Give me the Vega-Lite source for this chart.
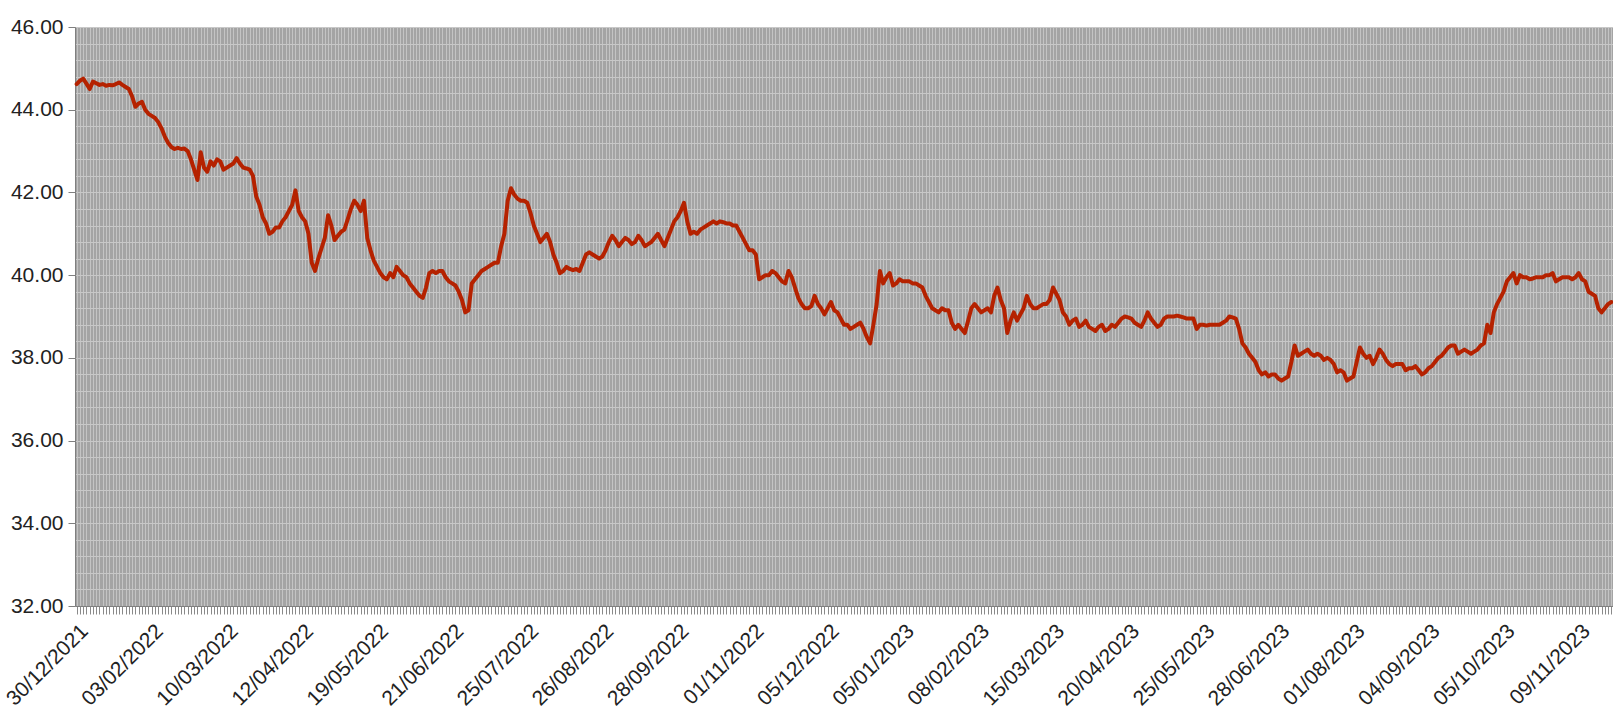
{
"$schema": "https://vega.github.io/schema/vega-lite/v6.json",
"width": 1538, "height": 579,
"autosize": {"type": "none"},
"padding": {"left": 75, "top": 27, "right": 0, "bottom": 104},
"background": "white",
"config": {"view": {"fill": "#a4a4a4", "stroke": null}, "font": "Liberation Sans"},
"data": {"values": [
{"date":"30/12/2021","value":44.62},{"date":"03/01/2022","value":44.70},{"date":"04/01/2022","value":44.75},{"date":"05/01/2022","value":44.63},{"date":"06/01/2022","value":44.50},{"date":"07/01/2022","value":44.68},{"date":"10/01/2022","value":44.64},{"date":"11/01/2022","value":44.60},{"date":"12/01/2022","value":44.62},{"date":"13/01/2022","value":44.58},{"date":"14/01/2022","value":44.60},{"date":"17/01/2022","value":44.59},{"date":"18/01/2022","value":44.62},{"date":"19/01/2022","value":44.66},{"date":"20/01/2022","value":44.60},{"date":"21/01/2022","value":44.55},{"date":"24/01/2022","value":44.50},{"date":"26/01/2022","value":44.32},{"date":"27/01/2022","value":44.07},{"date":"28/01/2022","value":44.15},{"date":"31/01/2022","value":44.19},{"date":"01/02/2022","value":44.00},{"date":"02/02/2022","value":43.90},
{"date":"03/02/2022","value":43.85},{"date":"04/02/2022","value":43.80},{"date":"07/02/2022","value":43.70},{"date":"08/02/2022","value":43.55},{"date":"09/02/2022","value":43.35},{"date":"10/02/2022","value":43.20},{"date":"11/02/2022","value":43.10},{"date":"14/02/2022","value":43.05},{"date":"15/02/2022","value":43.08},{"date":"16/02/2022","value":43.05},{"date":"17/02/2022","value":43.06},{"date":"18/02/2022","value":43.00},{"date":"21/02/2022","value":42.80},{"date":"22/02/2022","value":42.55},{"date":"23/02/2022","value":42.30},{"date":"24/02/2022","value":42.97},{"date":"25/02/2022","value":42.60},{"date":"02/03/2022","value":42.50},{"date":"03/03/2022","value":42.75},{"date":"04/03/2022","value":42.65},{"date":"07/03/2022","value":42.80},{"date":"08/03/2022","value":42.75},{"date":"09/03/2022","value":42.55},
{"date":"10/03/2022","value":42.60},{"date":"11/03/2022","value":42.65},{"date":"14/03/2022","value":42.70},{"date":"15/03/2022","value":42.83},{"date":"16/03/2022","value":42.70},{"date":"17/03/2022","value":42.60},{"date":"18/03/2022","value":42.58},{"date":"21/03/2022","value":42.55},{"date":"22/03/2022","value":42.40},{"date":"23/03/2022","value":41.90},{"date":"24/03/2022","value":41.70},{"date":"25/03/2022","value":41.40},{"date":"28/03/2022","value":41.25},{"date":"29/03/2022","value":41.00},{"date":"30/03/2022","value":41.05},{"date":"31/03/2022","value":41.15},{"date":"01/04/2022","value":41.15},{"date":"04/04/2022","value":41.30},{"date":"05/04/2022","value":41.40},{"date":"06/04/2022","value":41.55},{"date":"07/04/2022","value":41.70},{"date":"08/04/2022","value":42.05},{"date":"11/04/2022","value":41.55},
{"date":"12/04/2022","value":41.40},{"date":"13/04/2022","value":41.30},{"date":"14/04/2022","value":41.00},{"date":"18/04/2022","value":40.30},{"date":"19/04/2022","value":40.10},{"date":"20/04/2022","value":40.40},{"date":"22/04/2022","value":40.65},{"date":"25/04/2022","value":40.90},{"date":"26/04/2022","value":41.45},{"date":"27/04/2022","value":41.20},{"date":"28/04/2022","value":40.85},{"date":"02/05/2022","value":40.95},{"date":"03/05/2022","value":41.05},{"date":"04/05/2022","value":41.10},{"date":"05/05/2022","value":41.35},{"date":"06/05/2022","value":41.60},{"date":"09/05/2022","value":41.80},{"date":"10/05/2022","value":41.70},{"date":"11/05/2022","value":41.55},{"date":"12/05/2022","value":41.80},{"date":"16/05/2022","value":40.90},{"date":"17/05/2022","value":40.60},{"date":"18/05/2022","value":40.35},
{"date":"19/05/2022","value":40.20},{"date":"20/05/2022","value":40.05},{"date":"23/05/2022","value":39.95},{"date":"24/05/2022","value":39.90},{"date":"25/05/2022","value":40.05},{"date":"26/05/2022","value":39.95},{"date":"27/05/2022","value":40.20},{"date":"30/05/2022","value":40.10},{"date":"31/05/2022","value":40.00},{"date":"01/06/2022","value":39.95},{"date":"02/06/2022","value":39.80},{"date":"03/06/2022","value":39.70},{"date":"06/06/2022","value":39.60},{"date":"07/06/2022","value":39.50},{"date":"08/06/2022","value":39.45},{"date":"09/06/2022","value":39.70},{"date":"10/06/2022","value":40.05},{"date":"13/06/2022","value":40.10},{"date":"14/06/2022","value":40.05},{"date":"15/06/2022","value":40.10},{"date":"16/06/2022","value":40.10},{"date":"17/06/2022","value":39.95},{"date":"20/06/2022","value":39.85},
{"date":"21/06/2022","value":39.80},{"date":"22/06/2022","value":39.75},{"date":"23/06/2022","value":39.60},{"date":"24/06/2022","value":39.40},{"date":"27/06/2022","value":39.10},{"date":"28/06/2022","value":39.15},{"date":"29/06/2022","value":39.80},{"date":"30/06/2022","value":39.90},{"date":"01/07/2022","value":40.00},{"date":"04/07/2022","value":40.10},{"date":"05/07/2022","value":40.15},{"date":"06/07/2022","value":40.20},{"date":"07/07/2022","value":40.25},{"date":"08/07/2022","value":40.30},{"date":"11/07/2022","value":40.30},{"date":"12/07/2022","value":40.70},{"date":"13/07/2022","value":41.00},{"date":"14/07/2022","value":41.80},{"date":"18/07/2022","value":42.10},{"date":"19/07/2022","value":41.95},{"date":"20/07/2022","value":41.85},{"date":"21/07/2022","value":41.80},{"date":"22/07/2022","value":41.80},
{"date":"25/07/2022","value":41.75},{"date":"26/07/2022","value":41.50},{"date":"27/07/2022","value":41.20},{"date":"28/07/2022","value":41.00},{"date":"29/07/2022","value":40.80},{"date":"01/08/2022","value":40.90},{"date":"02/08/2022","value":41.00},{"date":"03/08/2022","value":40.80},{"date":"04/08/2022","value":40.50},{"date":"05/08/2022","value":40.30},{"date":"08/08/2022","value":40.05},{"date":"09/08/2022","value":40.10},{"date":"10/08/2022","value":40.20},{"date":"11/08/2022","value":40.15},{"date":"12/08/2022","value":40.12},{"date":"16/08/2022","value":40.15},{"date":"17/08/2022","value":40.10},{"date":"18/08/2022","value":40.30},{"date":"19/08/2022","value":40.50},{"date":"22/08/2022","value":40.55},{"date":"23/08/2022","value":40.50},{"date":"24/08/2022","value":40.45},{"date":"25/08/2022","value":40.40},
{"date":"26/08/2022","value":40.45},{"date":"29/08/2022","value":40.60},{"date":"30/08/2022","value":40.80},{"date":"31/08/2022","value":40.95},{"date":"01/09/2022","value":40.85},{"date":"02/09/2022","value":40.70},{"date":"05/09/2022","value":40.80},{"date":"06/09/2022","value":40.90},{"date":"07/09/2022","value":40.85},{"date":"08/09/2022","value":40.75},{"date":"09/09/2022","value":40.80},{"date":"12/09/2022","value":40.95},{"date":"13/09/2022","value":40.85},{"date":"14/09/2022","value":40.70},{"date":"15/09/2022","value":40.75},{"date":"16/09/2022","value":40.80},{"date":"19/09/2022","value":40.90},{"date":"20/09/2022","value":41.00},{"date":"21/09/2022","value":40.85},{"date":"22/09/2022","value":40.70},{"date":"23/09/2022","value":40.90},{"date":"26/09/2022","value":41.10},{"date":"27/09/2022","value":41.30},
{"date":"28/09/2022","value":41.40},{"date":"29/09/2022","value":41.55},{"date":"30/09/2022","value":41.75},{"date":"03/10/2022","value":41.30},{"date":"04/10/2022","value":41.00},{"date":"05/10/2022","value":41.05},{"date":"06/10/2022","value":41.00},{"date":"07/10/2022","value":41.10},{"date":"10/10/2022","value":41.15},{"date":"11/10/2022","value":41.20},{"date":"13/10/2022","value":41.25},{"date":"14/10/2022","value":41.30},{"date":"17/10/2022","value":41.25},{"date":"18/10/2022","value":41.30},{"date":"19/10/2022","value":41.28},{"date":"20/10/2022","value":41.25},{"date":"21/10/2022","value":41.25},{"date":"24/10/2022","value":41.20},{"date":"25/10/2022","value":41.20},{"date":"26/10/2022","value":41.05},{"date":"27/10/2022","value":40.90},{"date":"28/10/2022","value":40.75},{"date":"31/10/2022","value":40.60},
{"date":"01/11/2022","value":40.60},{"date":"02/11/2022","value":40.50},{"date":"03/11/2022","value":39.90},{"date":"04/11/2022","value":39.95},{"date":"07/11/2022","value":40.00},{"date":"08/11/2022","value":40.00},{"date":"09/11/2022","value":40.10},{"date":"10/11/2022","value":40.05},{"date":"11/11/2022","value":39.95},{"date":"14/11/2022","value":39.85},{"date":"16/11/2022","value":39.80},{"date":"17/11/2022","value":40.10},{"date":"18/11/2022","value":39.95},{"date":"21/11/2022","value":39.70},{"date":"22/11/2022","value":39.45},{"date":"23/11/2022","value":39.30},{"date":"24/11/2022","value":39.20},{"date":"25/11/2022","value":39.20},{"date":"28/11/2022","value":39.25},{"date":"29/11/2022","value":39.50},{"date":"30/11/2022","value":39.30},{"date":"01/12/2022","value":39.20},{"date":"02/12/2022","value":39.05},
{"date":"05/12/2022","value":39.20},{"date":"06/12/2022","value":39.35},{"date":"07/12/2022","value":39.15},{"date":"08/12/2022","value":39.10},{"date":"09/12/2022","value":38.95},{"date":"12/12/2022","value":38.80},{"date":"13/12/2022","value":38.80},{"date":"14/12/2022","value":38.70},{"date":"15/12/2022","value":38.75},{"date":"16/12/2022","value":38.80},{"date":"19/12/2022","value":38.85},{"date":"20/12/2022","value":38.70},{"date":"21/12/2022","value":38.50},{"date":"22/12/2022","value":38.35},{"date":"23/12/2022","value":38.80},{"date":"26/12/2022","value":39.30},{"date":"27/12/2022","value":40.10},{"date":"28/12/2022","value":39.80},{"date":"29/12/2022","value":39.95},{"date":"30/12/2022","value":40.05},{"date":"02/01/2023","value":39.75},{"date":"03/01/2023","value":39.80},{"date":"04/01/2023","value":39.90},
{"date":"05/01/2023","value":39.85},{"date":"06/01/2023","value":39.85},{"date":"09/01/2023","value":39.85},{"date":"10/01/2023","value":39.80},{"date":"11/01/2023","value":39.80},{"date":"12/01/2023","value":39.75},{"date":"13/01/2023","value":39.70},{"date":"16/01/2023","value":39.50},{"date":"17/01/2023","value":39.35},{"date":"18/01/2023","value":39.20},{"date":"19/01/2023","value":39.15},{"date":"20/01/2023","value":39.10},{"date":"23/01/2023","value":39.20},{"date":"24/01/2023","value":39.15},{"date":"26/01/2023","value":39.15},{"date":"27/01/2023","value":38.85},{"date":"30/01/2023","value":38.70},{"date":"31/01/2023","value":38.80},{"date":"01/02/2023","value":38.70},{"date":"02/02/2023","value":38.60},{"date":"03/02/2023","value":38.90},{"date":"06/02/2023","value":39.20},{"date":"07/02/2023","value":39.30},
{"date":"08/02/2023","value":39.20},{"date":"09/02/2023","value":39.10},{"date":"10/02/2023","value":39.15},{"date":"13/02/2023","value":39.20},{"date":"14/02/2023","value":39.10},{"date":"15/02/2023","value":39.50},{"date":"16/02/2023","value":39.70},{"date":"17/02/2023","value":39.40},{"date":"22/02/2023","value":39.20},{"date":"23/02/2023","value":38.60},{"date":"24/02/2023","value":38.90},{"date":"27/02/2023","value":39.10},{"date":"28/02/2023","value":38.90},{"date":"01/03/2023","value":39.05},{"date":"02/03/2023","value":39.20},{"date":"03/03/2023","value":39.50},{"date":"06/03/2023","value":39.30},{"date":"07/03/2023","value":39.20},{"date":"08/03/2023","value":39.20},{"date":"09/03/2023","value":39.25},{"date":"10/03/2023","value":39.30},{"date":"13/03/2023","value":39.30},{"date":"14/03/2023","value":39.40},
{"date":"15/03/2023","value":39.70},{"date":"16/03/2023","value":39.55},{"date":"17/03/2023","value":39.40},{"date":"20/03/2023","value":39.10},{"date":"21/03/2023","value":39.00},{"date":"22/03/2023","value":38.80},{"date":"23/03/2023","value":38.90},{"date":"27/03/2023","value":38.95},{"date":"28/03/2023","value":38.75},{"date":"29/03/2023","value":38.80},{"date":"30/03/2023","value":38.90},{"date":"31/03/2023","value":38.75},{"date":"03/04/2023","value":38.70},{"date":"04/04/2023","value":38.65},{"date":"05/04/2023","value":38.75},{"date":"06/04/2023","value":38.80},{"date":"10/04/2023","value":38.65},{"date":"11/04/2023","value":38.70},{"date":"12/04/2023","value":38.80},{"date":"13/04/2023","value":38.75},{"date":"17/04/2023","value":38.85},{"date":"18/04/2023","value":38.95},{"date":"19/04/2023","value":39.00},
{"date":"20/04/2023","value":38.98},{"date":"24/04/2023","value":38.95},{"date":"25/04/2023","value":38.85},{"date":"26/04/2023","value":38.80},{"date":"27/04/2023","value":38.75},{"date":"28/04/2023","value":38.90},{"date":"02/05/2023","value":39.10},{"date":"03/05/2023","value":38.95},{"date":"04/05/2023","value":38.85},{"date":"05/05/2023","value":38.75},{"date":"08/05/2023","value":38.80},{"date":"09/05/2023","value":38.95},{"date":"10/05/2023","value":39.00},{"date":"11/05/2023","value":39.00},{"date":"12/05/2023","value":39.00},{"date":"15/05/2023","value":39.02},{"date":"16/05/2023","value":39.00},{"date":"17/05/2023","value":38.98},{"date":"18/05/2023","value":38.95},{"date":"19/05/2023","value":38.95},{"date":"22/05/2023","value":38.95},{"date":"23/05/2023","value":38.70},{"date":"24/05/2023","value":38.80},
{"date":"25/05/2023","value":38.80},{"date":"26/05/2023","value":38.78},{"date":"29/05/2023","value":38.80},{"date":"30/05/2023","value":38.80},{"date":"31/05/2023","value":38.80},{"date":"01/06/2023","value":38.80},{"date":"02/06/2023","value":38.85},{"date":"05/06/2023","value":38.90},{"date":"06/06/2023","value":39.00},{"date":"07/06/2023","value":38.98},{"date":"09/06/2023","value":38.95},{"date":"12/06/2023","value":38.70},{"date":"13/06/2023","value":38.35},{"date":"14/06/2023","value":38.25},{"date":"15/06/2023","value":38.10},{"date":"16/06/2023","value":38.00},{"date":"19/06/2023","value":37.90},{"date":"20/06/2023","value":37.70},{"date":"21/06/2023","value":37.60},{"date":"22/06/2023","value":37.65},{"date":"23/06/2023","value":37.55},{"date":"26/06/2023","value":37.60},{"date":"27/06/2023","value":37.60},
{"date":"28/06/2023","value":37.50},{"date":"29/06/2023","value":37.45},{"date":"30/06/2023","value":37.50},{"date":"03/07/2023","value":37.55},{"date":"04/07/2023","value":37.90},{"date":"05/07/2023","value":38.30},{"date":"06/07/2023","value":38.05},{"date":"07/07/2023","value":38.10},{"date":"10/07/2023","value":38.15},{"date":"11/07/2023","value":38.20},{"date":"12/07/2023","value":38.10},{"date":"13/07/2023","value":38.05},{"date":"17/07/2023","value":38.10},{"date":"18/07/2023","value":38.05},{"date":"19/07/2023","value":37.95},{"date":"20/07/2023","value":38.00},{"date":"21/07/2023","value":37.95},{"date":"24/07/2023","value":37.85},{"date":"25/07/2023","value":37.65},{"date":"26/07/2023","value":37.70},{"date":"27/07/2023","value":37.65},{"date":"28/07/2023","value":37.45},{"date":"31/07/2023","value":37.50},
{"date":"01/08/2023","value":37.55},{"date":"02/08/2023","value":37.90},{"date":"03/08/2023","value":38.25},{"date":"04/08/2023","value":38.10},{"date":"07/08/2023","value":38.00},{"date":"08/08/2023","value":38.05},{"date":"09/08/2023","value":37.85},{"date":"10/08/2023","value":38.00},{"date":"11/08/2023","value":38.20},{"date":"14/08/2023","value":38.10},{"date":"16/08/2023","value":37.95},{"date":"17/08/2023","value":37.85},{"date":"18/08/2023","value":37.80},{"date":"21/08/2023","value":37.85},{"date":"22/08/2023","value":37.85},{"date":"23/08/2023","value":37.85},{"date":"24/08/2023","value":37.70},{"date":"25/08/2023","value":37.75},{"date":"28/08/2023","value":37.75},{"date":"29/08/2023","value":37.80},{"date":"30/08/2023","value":37.70},{"date":"31/08/2023","value":37.60},{"date":"01/09/2023","value":37.65},
{"date":"04/09/2023","value":37.75},{"date":"05/09/2023","value":37.80},{"date":"06/09/2023","value":37.90},{"date":"07/09/2023","value":38.00},{"date":"08/09/2023","value":38.05},{"date":"11/09/2023","value":38.15},{"date":"12/09/2023","value":38.25},{"date":"13/09/2023","value":38.30},{"date":"14/09/2023","value":38.30},{"date":"15/09/2023","value":38.10},{"date":"18/09/2023","value":38.15},{"date":"19/09/2023","value":38.20},{"date":"20/09/2023","value":38.15},{"date":"21/09/2023","value":38.10},{"date":"22/09/2023","value":38.15},{"date":"25/09/2023","value":38.20},{"date":"26/09/2023","value":38.30},{"date":"27/09/2023","value":38.35},{"date":"28/09/2023","value":38.80},{"date":"29/09/2023","value":38.60},{"date":"02/10/2023","value":39.10},{"date":"03/10/2023","value":39.30},{"date":"04/10/2023","value":39.45},
{"date":"05/10/2023","value":39.60},{"date":"06/10/2023","value":39.85},{"date":"09/10/2023","value":39.95},{"date":"10/10/2023","value":40.05},{"date":"11/10/2023","value":39.80},{"date":"13/10/2023","value":40.00},{"date":"16/10/2023","value":39.95},{"date":"17/10/2023","value":39.95},{"date":"18/10/2023","value":39.90},{"date":"19/10/2023","value":39.92},{"date":"20/10/2023","value":39.95},{"date":"23/10/2023","value":39.95},{"date":"24/10/2023","value":39.95},{"date":"25/10/2023","value":40.00},{"date":"26/10/2023","value":40.00},{"date":"27/10/2023","value":40.05},{"date":"30/10/2023","value":39.85},{"date":"31/10/2023","value":39.90},{"date":"01/11/2023","value":39.95},{"date":"03/11/2023","value":39.95},{"date":"06/11/2023","value":39.95},{"date":"07/11/2023","value":39.90},{"date":"08/11/2023","value":39.95},
{"date":"09/11/2023","value":40.05},{"date":"10/11/2023","value":39.90},{"date":"13/11/2023","value":39.85},{"date":"14/11/2023","value":39.60},{"date":"16/11/2023","value":39.55},{"date":"17/11/2023","value":39.50},{"date":"20/11/2023","value":39.20},{"date":"21/11/2023","value":39.10},{"date":"22/11/2023","value":39.20},{"date":"23/11/2023","value":39.30},{"date":"24/11/2023","value":39.35}
]},
"mark": {"type": "line", "color": "#b52200", "strokeWidth": 4, "strokeJoin": "round", "strokeCap": "round"},
"encoding": {
"x": {"field": "date", "type": "ordinal", "sort": null, "scale": {"type": "point", "padding": 0.5},
 "axis": {"title": null, "grid": true, "gridColor": "#c4c4c4", "gridWidth": 1, "gridOpacity": 1,
  "domainColor": "#7f7f7f", "domainWidth": 1, "tickColor": "#8a8a8a", "tickSize": 8, "tickWidth": 1,
  "labelAngle": -45, "labelFontSize": 21, "labelColor": "#222222", "labelPadding": 6,
  "labelOverlap": false, "labelBound": false, "labelFlush": false,
  "labelExpr": "indexof(['30/12/2021','03/02/2022','10/03/2022','12/04/2022','19/05/2022','21/06/2022','25/07/2022','26/08/2022','28/09/2022','01/11/2022','05/12/2022','05/01/2023','08/02/2023','15/03/2023','20/04/2023','25/05/2023','28/06/2023','01/08/2023','04/09/2023','05/10/2023','09/11/2023'], datum.value) >= 0 ? datum.value : ''"}},
"y": {"field": "value", "type": "quantitative", "scale": {"domain": [32, 46], "nice": false, "zero": false},
 "axis": {"title": null, "values": [32,32.4,32.8,33.2,33.6,34,34.4,34.8,35.2,35.6,36,36.4,36.8,37.2,37.6,38,38.4,38.8,39.2,39.6,40,40.4,40.8,41.2,41.6,42,42.4,42.8,43.2,43.6,44,44.4,44.8,45.2,45.6,46],
  "grid": true, "gridColor": "#c8c8c8", "gridWidth": 1, "gridOpacity": 1,
  "domainColor": "#7f7f7f", "domainWidth": 1,
  "tickColor": {"condition": {"test": "round(datum.value*10) % 20 == 0", "value": "#7f7f7f"}, "value": "transparent"},
  "tickSize": 7, "tickWidth": 1,
  "labelFontSize": 21, "labelColor": "#222222", "labelPadding": 5, "labelOverlap": false,
  "labelExpr": "round(datum.value*10) % 20 == 0 ? format(datum.value, '.2f') : ''"}}
}
}
